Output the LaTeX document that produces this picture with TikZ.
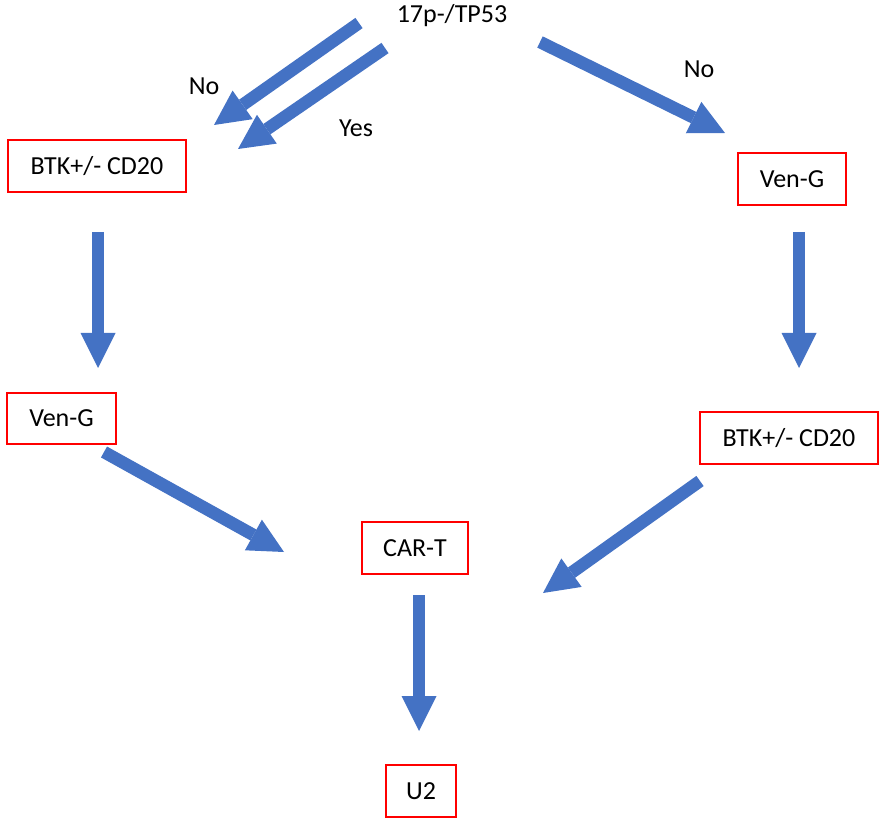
\documentclass[tikz,border=0pt]{standalone}
\usepackage{fontspec}
\setmainfont{Carlito}
\usetikzlibrary{arrows.meta}
\definecolor{arrowblue}{HTML}{4472C4}
\definecolor{boxred}{HTML}{FF0000}
\tikzset{
  box/.style={draw=boxred, line width=1.5pt, inner sep=0pt, font=\fontsize{26}{30}\selectfont},
  lbl/.style={inner sep=0pt, font=\fontsize{26}{30}\selectfont},
  blockarrow/.style={draw=arrowblue, line width=12.5pt,
    -{Triangle[width=35pt,length=35pt,line width=0pt,fill=arrowblue]}}
}
\begin{document}
\begin{tikzpicture}[x=1pt,y=-1pt]
\useasboundingbox (0,0) rectangle (879,818);
% boxes
\node[box, minimum width=178pt, minimum height=52pt] (btkL) at (97,166) {BTK+/- CD20};
\node[box, minimum width=108pt, minimum height=52pt] (vengR) at (792,179) {Ven-G};
\node[box, minimum width=109pt, minimum height=51pt] (vengL) at (61.5,418.5) {Ven-G};
\node[box, minimum width=178pt, minimum height=52pt] (btkR) at (789,438) {BTK+/- CD20};
\node[box, minimum width=106pt, minimum height=52pt] (cart) at (415,548) {CAR-T};
\node[box, minimum width=70pt, minimum height=52pt] (u2) at (421,791) {U2};
% labels
\node[lbl] (top) at (452,16) {17p-/TP53};
\node[lbl] (noL) at (204,86) {No};
\node[lbl] (yes) at (356,128) {Yes};
\node[lbl] (noR) at (699,69) {No};
% arrow end points
\coordinate (a1s) at (359,23);  \coordinate (a1e) at (214,125);
\coordinate (a2s) at (385,48);  \coordinate (a2e) at (238,149);
\coordinate (a3s) at (540,42);  \coordinate (a3e) at (725,133);
\coordinate (a4s) at (98,232);  \coordinate (a4e) at (98,368);
\coordinate (a5s) at (799,232); \coordinate (a5e) at (799,368);
\coordinate (a6s) at (104,452); \coordinate (a6e) at (284,552);
\coordinate (a7s) at (700,481); \coordinate (a7e) at (543,593);
\coordinate (a8s) at (419,595); \coordinate (a8e) at (419,731);
% arrows
\draw[blockarrow] (a1s) -- (a1e);
\draw[blockarrow] (a2s) -- (a2e);
\draw[blockarrow] (a3s) -- (a3e);
\draw[blockarrow] (a4s) -- (a4e);
\draw[blockarrow] (a5s) -- (a5e);
\draw[blockarrow] (a6s) -- (a6e);
\draw[blockarrow] (a7s) -- (a7e);
\draw[blockarrow] (a8s) -- (a8e);
\end{tikzpicture}
\end{document}
